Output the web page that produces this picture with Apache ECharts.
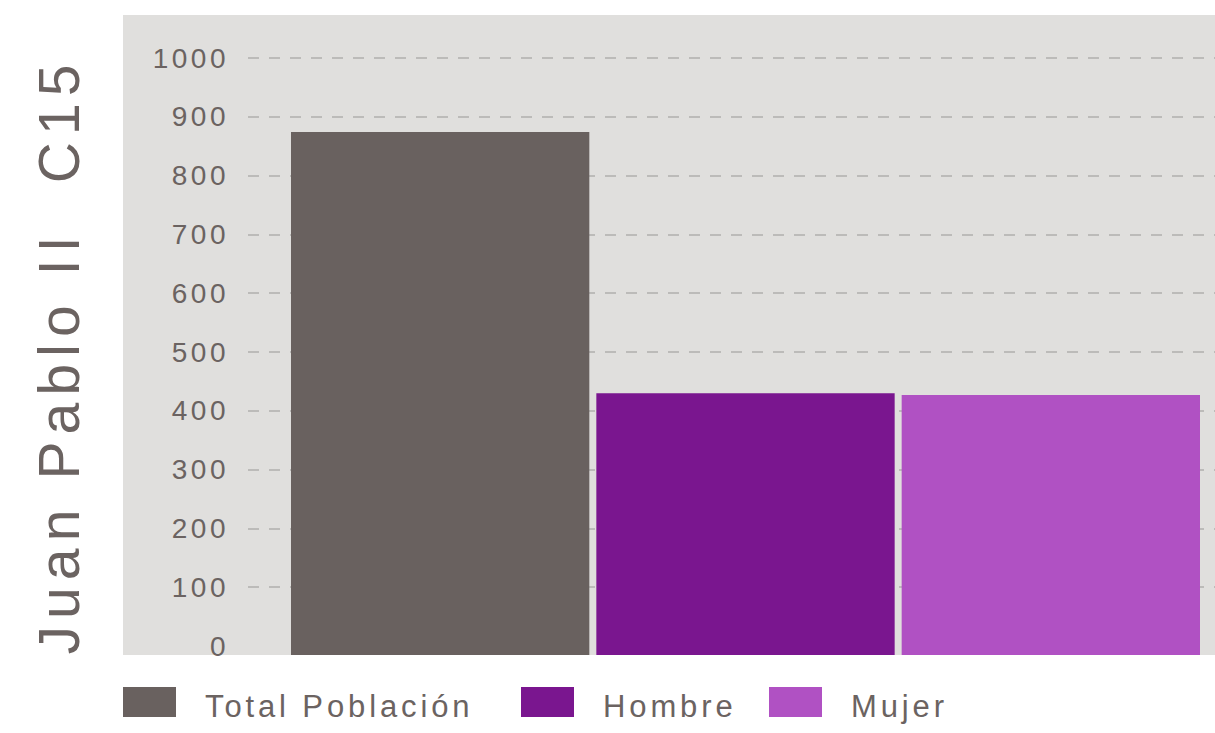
<!DOCTYPE html>
<html>
<head>
<meta charset="utf-8">
<script src="https://cdn.jsdelivr.net/npm/echarts@6/dist/echarts.min.js"></script>
<style>
  body { margin: 0; background: #fff; }
  /* el diseño original tiene tracking amplio en todos los textos */
  #main text { letter-spacing: 0.125em; white-space: pre; }
</style>
</head>
<body>
<div id="main" style="width:1215px;height:733px"></div>
<script>
// datos
var categories = ['Juan Pablo II  C15']
var seriesNames = ['Total Población', 'Hombre', 'Mujer']
var totalValues = [874]
var hombreValues = [430]
var mujerValues = [427]
var yMin = 0
var yMax = 1000
var yStep = 100

var colors = ['#69615f', '#7a168f', '#b051c3']
var textColor = '#6b6361'
var font = '"Liberation Sans", Arial, sans-serif'
var legendLeft = [123, 521, 769]

var chart = echarts.init(document.getElementById('main'), null, { renderer: 'svg' })

chart.setOption({
  animation: false,
  color: colors,
  graphic: [
    {
      type: 'rect',
      z: -10,
      silent: true,
      shape: { x: 123, y: 15, width: 1092, height: 640 },
      style: { fill: '#e0dfdd' }
    },
    {
      type: 'text',
      x: 59,
      y: 356,
      rotation: Math.PI / 2,
      style: {
        text: categories[0],
        fontSize: 57,
        fontFamily: font,
        fill: textColor,
        align: 'center',
        verticalAlign: 'middle'
      }
    }
  ],
  legend: seriesNames.map(function(name, i) {
    return {
      data: [name],
      left: legendLeft[i],
      top: 687,
      padding: 0,
      icon: 'rect',
      itemWidth: 53,
      itemHeight: 30,
      selectedMode: false,
      formatter: '{t|{name}}',
      textStyle: {
        rich: {
          t: { fontSize: 31, fontFamily: font, color: textColor, padding: [8, 0, 0, 24] }
        }
      }
    }
  }),
  // grid 0: escala y rejilla, grid 1: barras (llegan al borde inferior del fondo)
  grid: [
    { left: 248, right: 0, top: 58, bottom: 87 },
    { left: 291, right: 15, top: 15, bottom: 78 }
  ],
  xAxis: [
    { gridIndex: 0, type: 'category', data: categories, show: false },
    { gridIndex: 1, type: 'category', data: categories, show: false }
  ],
  yAxis: [
    {
      gridIndex: 0,
      type: 'value',
      min: yMin,
      max: yMax,
      interval: yStep,
      axisLine: { show: false },
      axisTick: { show: false },
      axisLabel: {
        color: textColor,
        fontSize: 28,
        fontFamily: font,
        margin: 19,
        formatter: function(v) { return String(v) }
      },
      splitLine: {
        show: true,
        showMinLine: false,
        lineStyle: { color: '#bcbbb9', width: 2, type: [11, 10] }
      }
    },
    {
      gridIndex: 1,
      type: 'value',
      min: -15.3,
      max: 1073.1,
      startValue: -15.3,
      show: false
    }
  ],
  series: [
    { name: seriesNames[0], type: 'bar', xAxisIndex: 1, yAxisIndex: 1, data: totalValues, barGap: '2.35%', barCategoryGap: '0%' },
    { name: seriesNames[1], type: 'bar', xAxisIndex: 1, yAxisIndex: 1, data: hombreValues, barGap: '2.35%', barCategoryGap: '0%' },
    { name: seriesNames[2], type: 'bar', xAxisIndex: 1, yAxisIndex: 1, data: mujerValues, barGap: '2.35%', barCategoryGap: '0%' }
  ]
})
</script>
</body>
</html>
